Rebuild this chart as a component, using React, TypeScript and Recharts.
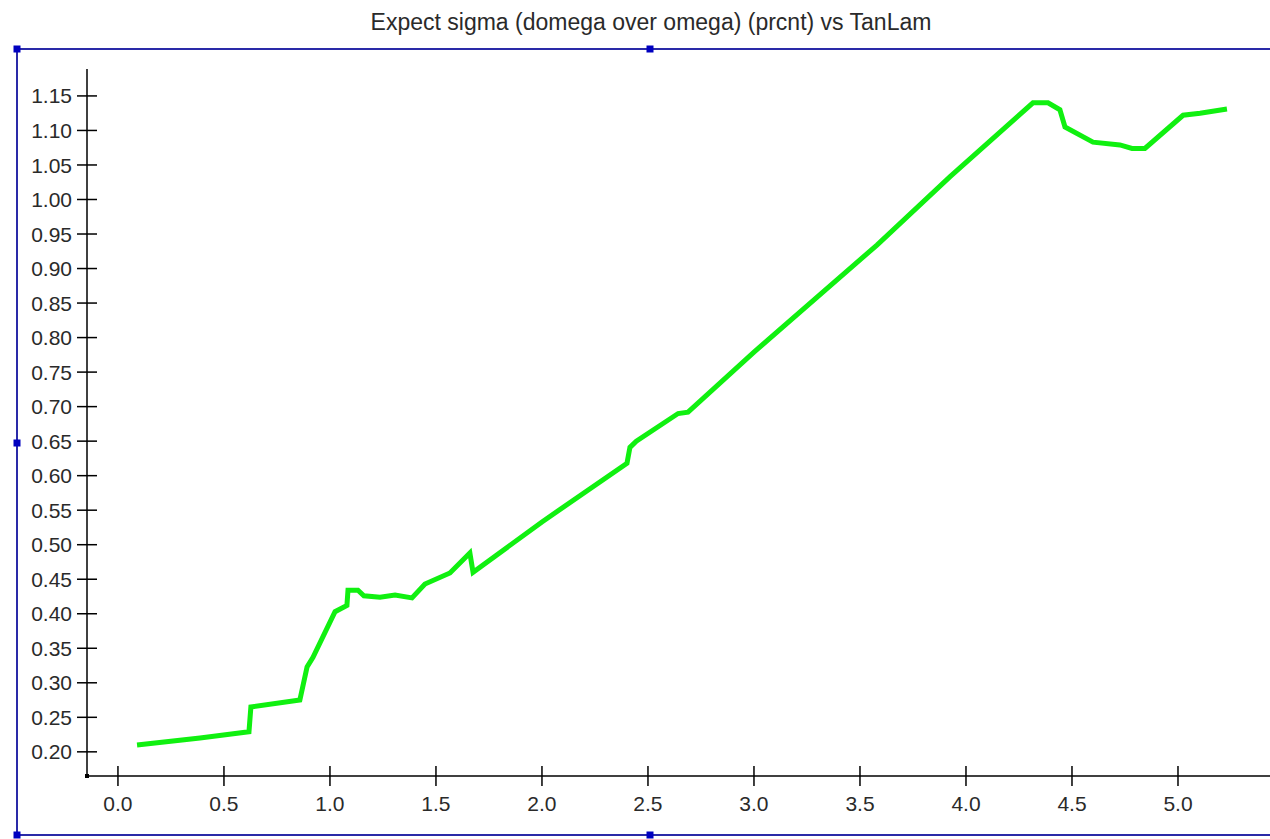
import React from 'react';
import { LineChart, Line, XAxis, YAxis } from 'recharts';

// TanLam values and the expected sigma (percent)
const tanLam = [
  0.09, 0.387, 0.618, 0.627, 0.858, 0.892, 0.92, 1.024, 1.08, 1.085, 1.132, 1.16,
  1.236, 1.307, 1.387, 1.448, 1.566, 1.66, 1.675, 2.0, 2.401, 2.415, 2.445, 2.642,
  2.689, 3.0, 3.58, 3.925, 4.316, 4.387, 4.443, 4.467, 4.599, 4.726, 4.783, 4.844,
  5.024, 5.104, 5.231,
];
const sigma = [
  0.21, 0.22, 0.229, 0.265, 0.275, 0.323, 0.337, 0.403, 0.412, 0.434, 0.434, 0.426,
  0.424, 0.427, 0.423, 0.443, 0.459, 0.488, 0.46, 0.533, 0.618, 0.641, 0.65, 0.69,
  0.692, 0.779, 0.934, 1.033, 1.14, 1.14, 1.13, 1.105, 1.083, 1.079, 1.074, 1.074,
  1.122, 1.125, 1.131,
];

const xTicks = [0, 0.5, 1, 1.5, 2, 2.5, 3, 3.5, 4, 4.5, 5];
const yTicks = [
  0.2, 0.25, 0.3, 0.35, 0.4, 0.45, 0.5, 0.55, 0.6, 0.65, 0.7, 0.75, 0.8, 0.85, 0.9,
  0.95, 1.0, 1.05, 1.1, 1.15,
];

const title = 'Expect sigma (domega over omega) (prcnt) vs TanLam';

const data = tanLam.map((x, i) => ({ x, y: sigma[i] }));

const W = 1270;
const H = 839;
const FONT = '"Liberation Sans", Arial, sans-serif';
const TICK = 10;
const Y_GAP = 5;
const X_GAP = 10;

const YTick = (props: any) => {
  const { x, y, payload } = props;
  const ax = x + Y_GAP + TICK;
  return (
    <g>
      <line x1={ax - TICK} x2={ax + TICK} y1={y} y2={y} stroke="#000" strokeWidth={1.5} />
      <text x={x} y={y} dy="0.36em" textAnchor="end" fontSize={21} fill="#2a2a2a" fontFamily={FONT}>
        {Number(payload.value).toFixed(2)}
      </text>
    </g>
  );
};

const XTick = (props: any) => {
  const { x, y, payload } = props;
  const ay = y - X_GAP - TICK;
  return (
    <g>
      <line x1={x} x2={x} y1={ay - TICK} y2={ay + TICK} stroke="#000" strokeWidth={1.5} />
      <text x={x} y={y} dy="0.71em" textAnchor="middle" fontSize={21} fill="#2a2a2a" fontFamily={FONT}>
        {Number(payload.value).toFixed(1)}
      </text>
    </g>
  );
};

const Frame = () => {
  const blue = '#2a2aa8';
  const handles = [
    [17, 49], [650, 49], [17, 443], [17, 835], [650, 835],
  ];
  return (
    <svg width={W} height={H} style={{ position: 'absolute', left: 0, top: 0 }}>
      <rect x={0} y={0} width={W} height={H} fill="#fff" />
      <text x={651} y={30} textAnchor="middle" fontSize={23} fill="#2a2a2a" fontFamily={FONT}>
        {title}
      </text>
      <line x1={17} x2={W} y1={49} y2={49} stroke={blue} strokeWidth={2} />
      <line x1={17} x2={W} y1={835} y2={835} stroke={blue} strokeWidth={2} />
      <line x1={17} x2={17} y1={49} y2={835} stroke={blue} strokeWidth={2} />
      {handles.map(([hx, hy], i) => (
        <rect key={i} x={hx - 3.5} y={hy - 3.5} width={7} height={7} fill="#0000c0" />
      ))}
      <rect x={85} y={774} width={4} height={4} fill="#000" />
    </svg>
  );
};

export default function App() {
  return (
    <div style={{ position: 'absolute', left: 0, top: 0, width: W, height: H }}>
      <Frame />
      <div style={{ position: 'absolute', left: 0, top: 0 }}>
        <LineChart width={W} height={H} data={data} margin={{ top: 69, right: 0, bottom: 0, left: 0 }}>
          <XAxis
            dataKey="x"
            type="number"
            domain={[-0.146, 5.434]}
            ticks={xTicks}
            allowDataOverflow
            height={63}
            stroke="#000"
            strokeWidth={1.5}
            tickSize={TICK}
            tickMargin={X_GAP}
            tickLine={false}
            tick={<XTick />}
            interval={0}
          />
          <YAxis
            dataKey="y"
            type="number"
            domain={[0.165, 1.189]}
            ticks={yTicks}
            allowDataOverflow
            width={87}
            stroke="#000"
            strokeWidth={1.5}
            tickSize={TICK}
            tickMargin={Y_GAP}
            tickLine={false}
            tick={<YTick />}
            interval={0}
          />
          <Line
            type="linear"
            dataKey="y"
            stroke="#10f010"
            strokeWidth={5}
            dot={false}
            isAnimationActive={false}
          />
        </LineChart>
      </div>
    </div>
  );
}
